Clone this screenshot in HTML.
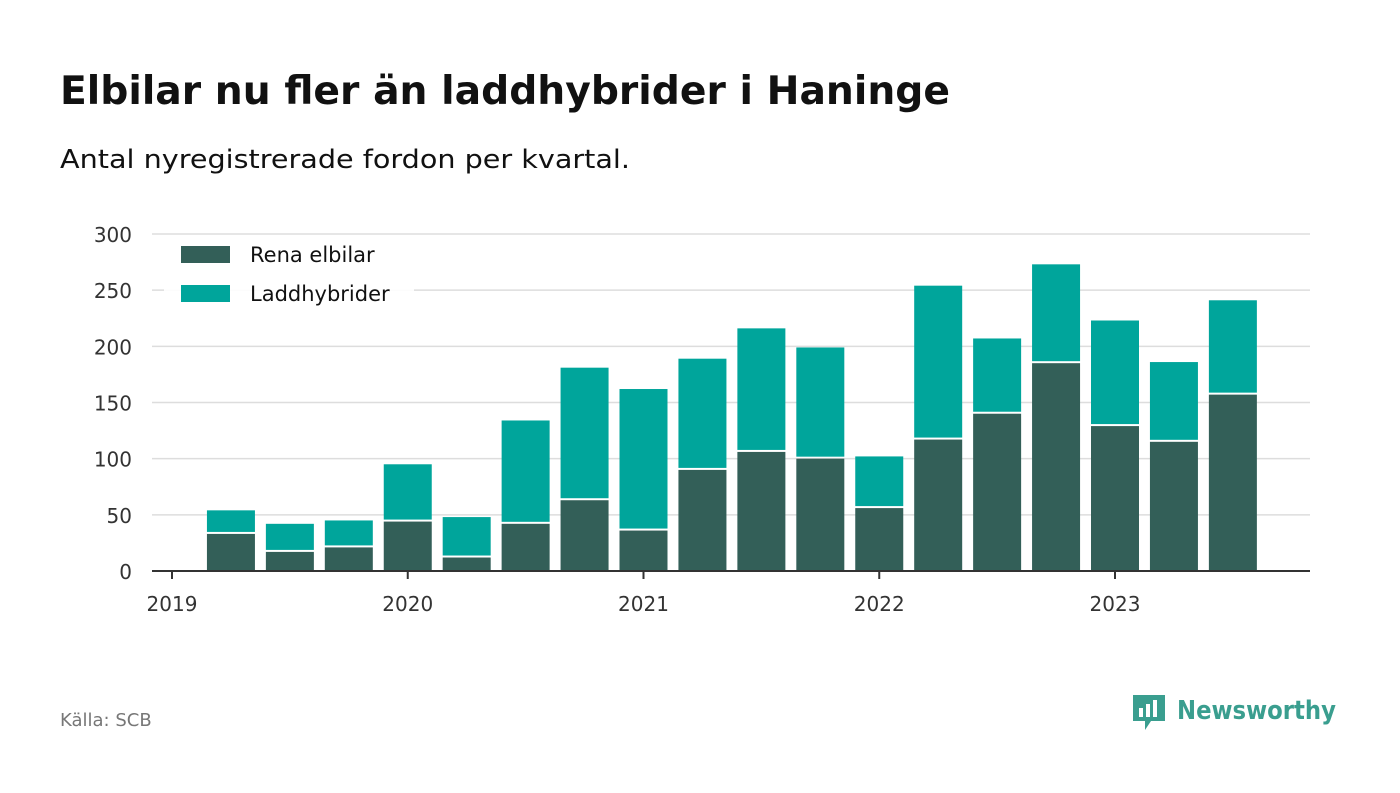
<!DOCTYPE html>
<html><head><meta charset="utf-8"><style>
body{margin:0;background:#fff;font-family:"DejaVu Sans","Liberation Sans",sans-serif;}
svg text{font-family:"DejaVu Sans","Liberation Sans",sans-serif;}
#wrap{position:relative;width:1400px;height:793px;overflow:hidden;}
</style></head><body><div id="wrap">
<svg id="svg" width="1400" height="793">
<text x="60" y="104" font-size="39" font-weight="bold" fill="#111" textLength="890" lengthAdjust="spacingAndGlyphs">Elbilar nu fler än laddhybrider i Haninge</text>
<text x="60" y="168" font-size="26" fill="#111" textLength="570" lengthAdjust="spacingAndGlyphs">Antal nyregistrerade fordon per kvartal.</text>
<g id="grid"></g><g id="bars"></g><g id="axes"></g>
<g>
<rect x="164" y="238" width="250" height="76" fill="#fff" opacity="0.9"/>
<rect x="181" y="246" width="49" height="17" fill="#335f58"/>
<text x="250" y="262" font-size="21" fill="#111">Rena elbilar</text>
<rect x="181" y="285" width="49" height="17" fill="#00a59b"/>
<text x="250" y="301" font-size="21" fill="#111">Laddhybrider</text>
</g>
<text x="60" y="726" font-size="18" fill="#777">Källa: SCB</text>
<g>
<path d="M1133 695 h32 v26 h-14 l-6 9 v-9 h-12 z" fill="#3a9e8f"/>
<rect x="1139" y="708" width="4" height="9" fill="#fff"/><rect x="1146" y="704" width="4" height="13" fill="#fff"/><rect x="1153" y="700" width="4" height="17" fill="#fff"/>
<text x="1177" y="719" font-size="26" font-weight="bold" fill="#3a9e8f" textLength="159" lengthAdjust="spacingAndGlyphs">Newsworthy</text>
</g>
</svg>
<script>
const ticksY=[0,50,100,150,200,250,300];
const yearLabels=["2019","2020","2021","2022","2023"];
const elbilar=[33,17,21,44,12,42,63,36,90,106,100,56,117,140,185,129,115,157];
const laddhybrider=[21,25,24,51,36,92,118,126,99,110,99,46,137,67,88,94,71,84];
const NS="http://www.w3.org/2000/svg";
const y=v=>571-v*(337/300);
const x=t=>172+t*235.75;
function mk(tag,attrs,parent){const e=document.createElementNS(NS,tag);for(const k in attrs)e.setAttribute(k,attrs[k]);document.getElementById(parent).appendChild(e);return e;}
ticksY.forEach(v=>{
 if(v>0){const l=mk('line',{x1:152,x2:1310,y1:y(v),y2:y(v),stroke:'#ddd','stroke-width':1.5},'grid');
 
 }
 const t=mk('text',{x:132,y:y(v)+8,'font-size':20,fill:'#333','text-anchor':'end'},'axes');t.textContent=v;
 
 
});
elbilar.forEach((e,i)=>{
 const cx=x((i+1)/4),w=48,h=laddhybrider[i];
 const b1=mk('rect',{x:cx-w/2,y:y(e),width:w,height:y(0)-y(e),fill:'#335f58'},'bars');
 
 
 const b2=mk('rect',{x:cx-w/2,y:y(e+h),width:w,height:y(e)-y(e+h)-2,fill:'#00a59b'},'bars');
 
 
});
const ax=mk('line',{x1:152,x2:1310,y1:571,y2:571,stroke:'#333','stroke-width':2},'axes');


yearLabels.forEach((lab,i)=>{
 const tk=mk('line',{x1:x(i),x2:x(i),y1:571,y2:579,stroke:'#333','stroke-width':2},'axes');
 
 
 const t=mk('text',{x:x(i),y:611,'font-size':20,fill:'#333','text-anchor':'middle'},'axes');t.textContent=lab;
 
 
});
</script></div></body></html>
